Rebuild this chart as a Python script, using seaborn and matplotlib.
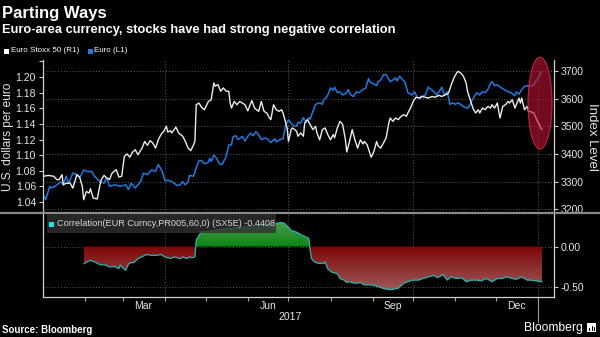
import numpy as np
import pandas as pd
import matplotlib
matplotlib.use("Agg")
import matplotlib.pyplot as plt
import matplotlib.dates as mdates
import matplotlib.transforms as mtransforms
from matplotlib.patches import Ellipse, Rectangle, PathPatch
from matplotlib.path import Path
from matplotlib.lines import Line2D
import seaborn as sns

# ---------------- data ----------------
START = pd.Timestamp("2017-01-01")

eur_day = [0, 2, 5, 6, 9, 11, 13, 15, 17, 19, 22, 25, 27, 30, 33, 36, 38, 42, 45, 47, 49, 53, 57, 61, 63,
           65, 68, 72, 74, 77, 80, 83, 85, 88, 90, 92, 95, 99, 101, 103, 105, 107, 108, 111, 113, 115, 117,
           119, 122, 123, 124, 126, 128, 130, 132, 135, 137, 139, 140, 142, 144, 147, 149, 151, 153, 155,
           157, 159, 161, 164, 166, 168, 171, 172, 175, 177, 179, 181, 183, 185, 187, 188, 190, 192, 194,
           196, 197, 199, 201, 204, 206, 207, 209, 210, 212, 214, 215, 217, 219, 221, 224, 225, 227, 229,
           231, 233, 236, 238, 240, 241, 243, 246, 247, 249, 251, 253, 255, 256, 258, 260, 261, 263, 265,
           267, 269, 272, 274, 276, 278, 279, 282, 284, 287, 289, 290, 292, 294, 296, 298, 299, 300, 302,
           304, 306, 308, 310, 313, 314, 316, 318, 320, 322, 324, 326, 328, 330, 331, 333, 335, 338, 340,
           343, 345, 348, 349, 351, 353, 355, 357, 359, 362, 363, 365, 367, 368]
eur_usd = [1.049, 1.043, 1.060, 1.058, 1.060, 1.063, 1.066, 1.062, 1.073, 1.064, 1.077, 1.075, 1.071,
           1.081, 1.079, 1.079, 1.073, 1.066, 1.064, 1.071, 1.060, 1.062, 1.060, 1.062, 1.056, 1.064,
           1.058, 1.066, 1.077, 1.075, 1.081, 1.079, 1.088, 1.079, 1.067, 1.068, 1.066, 1.061, 1.062,
           1.066, 1.062, 1.066, 1.074, 1.073, 1.084, 1.093, 1.093, 1.089, 1.091, 1.096, 1.092, 1.100,
           1.096, 1.089, 1.088, 1.098, 1.113, 1.113, 1.123, 1.125, 1.120, 1.124, 1.118, 1.124, 1.128,
           1.125, 1.130, 1.126, 1.120, 1.122, 1.120, 1.116, 1.121, 1.117, 1.120, 1.121, 1.139, 1.145,
           1.141, 1.137, 1.137, 1.142, 1.141, 1.148, 1.142, 1.148, 1.146, 1.156, 1.165, 1.167, 1.165,
           1.171, 1.174, 1.177, 1.186, 1.183, 1.187, 1.180, 1.181, 1.177, 1.180, 1.184, 1.177, 1.175,
           1.181, 1.180, 1.184, 1.186, 1.198, 1.194, 1.192, 1.189, 1.194, 1.196, 1.203, 1.203, 1.197,
           1.194, 1.196, 1.199, 1.195, 1.201, 1.197, 1.193, 1.180, 1.177, 1.181, 1.174, 1.173, 1.175,
           1.177, 1.187, 1.183, 1.180, 1.177, 1.181, 1.187, 1.177, 1.181, 1.174, 1.165, 1.167, 1.165,
           1.167, 1.165, 1.162, 1.160, 1.162, 1.169, 1.175, 1.180, 1.177, 1.181, 1.180, 1.184, 1.192,
           1.194, 1.189, 1.190, 1.186, 1.184, 1.181, 1.180, 1.176, 1.181, 1.178, 1.184, 1.188, 1.189,
           1.188, 1.190, 1.194, 1.198, 1.205, 1.207]

sx5e_day = [0, 4, 8, 10, 12, 14, 15, 17, 20, 22, 25, 27, 29, 30, 32, 34, 35, 37, 40, 42, 43, 45, 47, 49,
            51, 54, 56, 58, 60, 62, 64, 66, 68, 70, 73, 75, 77, 79, 81, 83, 85, 87, 89, 91, 92, 94, 95,
            98, 100, 103, 105, 107, 109, 111, 112, 113, 115, 117, 119, 122, 124, 126, 127, 129, 131, 133,
            135, 137, 138, 139, 141, 143, 145, 147, 149, 151, 154, 156, 159, 161, 163, 165, 167, 168, 170,
            172, 174, 176, 177, 178, 180, 181, 183, 184, 187, 188, 190, 192, 193, 195, 197, 199, 201, 202,
            204, 206, 208, 210, 212, 214, 215, 217, 219, 221, 223, 224, 226, 228, 230, 232, 234, 236, 237,
            239, 242, 244, 246, 247, 249, 251, 253, 255, 256, 258, 260, 262, 264, 266, 268, 269, 271, 273,
            275, 278, 279, 282, 284, 287, 289, 292, 294, 296, 299, 301, 303, 305, 306, 308, 310, 312, 313,
            315, 317, 319, 321, 322, 324, 326, 328, 330, 331, 333, 335, 337, 339, 341, 343, 344, 346, 348,
            349, 351, 352, 353, 355, 357, 358, 360, 362, 364, 366, 367, 368]
sx5e_level = [3319, 3322, 3319, 3307, 3307, 3325, 3288, 3294, 3294, 3276, 3325, 3316, 3282, 3234, 3264,
              3258, 3274, 3240, 3237, 3288, 3307, 3322, 3313, 3307, 3331, 3343, 3316, 3319, 3391, 3400,
              3388, 3406, 3415, 3397, 3421, 3445, 3431, 3448, 3439, 3421, 3451, 3470, 3482, 3500, 3479,
              3484, 3476, 3497, 3476, 3464, 3445, 3421, 3412, 3433, 3445, 3578, 3584, 3568, 3560, 3590,
              3596, 3657, 3645, 3651, 3627, 3639, 3627, 3627, 3584, 3566, 3590, 3578, 3590, 3584, 3578,
              3556, 3593, 3566, 3554, 3590, 3554, 3548, 3530, 3524, 3578, 3560, 3554, 3560, 3548, 3530,
              3494, 3445, 3488, 3494, 3482, 3464, 3476, 3464, 3512, 3524, 3506, 3488, 3500, 3476, 3451,
              3488, 3494, 3470, 3451, 3470, 3458, 3494, 3518, 3506, 3451, 3407, 3445, 3488, 3451, 3421,
              3451, 3436, 3445, 3433, 3388, 3409, 3445, 3430, 3421, 3439, 3458, 3512, 3530, 3518, 3530,
              3524, 3536, 3542, 3536, 3548, 3566, 3590, 3605, 3602, 3608, 3605, 3602, 3608, 3605, 3612,
              3608, 3612, 3620, 3650, 3675, 3693, 3699, 3693, 3681, 3657, 3627, 3596, 3566, 3548, 3560,
              3548, 3566, 3560, 3572, 3566, 3578, 3566, 3584, 3530, 3572, 3578, 3590, 3584, 3596, 3566,
              3578, 3602, 3584, 3602, 3560, 3572, 3554, 3552, 3548, 3524, 3506, 3494, 3488]

corr_day = [30, 32, 35, 38, 42, 46, 49, 53, 56, 57, 59, 61, 63, 65, 67, 70, 74, 76, 80, 84, 87, 90, 94,
            97, 101, 103, 106, 108, 110, 112, 113, 115, 117, 121, 126, 132, 138, 145, 153, 160, 167, 172,
            176, 178, 181, 183, 187, 191, 194, 196, 197, 198, 200, 203, 207, 208, 210, 213, 217, 219, 222,
            224, 226, 230, 234, 237, 242, 247, 252, 257, 262, 266, 269, 273, 277, 280, 284, 288, 291, 295,
            298, 301, 305, 309, 312, 316, 320, 323, 327, 331, 335, 338, 342, 346, 349, 353, 357, 360, 364,
            368]
corr_value = [-0.216, -0.196, -0.173, -0.19, -0.227, -0.23, -0.256, -0.25, -0.277, -0.23, -0.27, -0.298,
              -0.22, -0.20, -0.20, -0.152, -0.12, -0.10, -0.11, -0.11, -0.10, -0.13, -0.15, -0.13, -0.15,
              -0.13, -0.15, -0.13, -0.14, -0.13, 0.08, 0.14, 0.19, 0.19, 0.20, 0.22, 0.23, 0.24, 0.25,
              0.26, 0.28, 0.29, 0.30, 0.29, 0.24, 0.20, 0.18, 0.14, 0.12, 0.10, -0.05, -0.15, -0.19,
              -0.21, -0.21, -0.19, -0.28, -0.32, -0.34, -0.40, -0.42, -0.45, -0.44, -0.46, -0.45, -0.48,
              -0.48, -0.50, -0.53, -0.54, -0.52, -0.46, -0.44, -0.42, -0.42, -0.40, -0.38, -0.36, -0.39,
              -0.35, -0.42, -0.38, -0.40, -0.39, -0.44, -0.42, -0.42, -0.43, -0.40, -0.44, -0.40, -0.40,
              -0.38, -0.40, -0.41, -0.38, -0.42, -0.42, -0.43, -0.4408]

left_ticks = [1.04, 1.06, 1.08, 1.10, 1.12, 1.14, 1.16, 1.18, 1.20, 1.22]
left_labels = ["1.04", "1.06", "1.08", "1.10", "1.12", "1.14", "1.16", "1.18", "1.20", ""]
right_ticks = [3200, 3300, 3400, 3500, 3600, 3700]
corr_ticks = [0.0, -0.5]
corr_labels = ["0.00", "-0.50"]
month_labels = ["Mar", "Jun", "Sep", "Dec"]
label_months = [3, 6, 9, 12]
year_label = "2017"

title = "Parting Ways"
subtitle = "Euro-area currency, stocks have had strong negative correlation"
legend_top = ["Euro Stoxx 50 (R1)", "Euro (L1)"]
corr_legend = "Correlation(EUR Curncy,PR005,60,0) (SX5E) -0.4408"

# ---------------- style ----------------
sns.set_style("dark", {"axes.facecolor": "black", "figure.facecolor": "black",
                       "axes.edgecolor": "#d0d0d0", "text.color": "white"})
plt.rcParams["font.family"] = ["Liberation Sans", "DejaVu Sans"]

BLUE = "#1f7ae0"
WHITE = "#ececec"
TEAL = "#2ab5b5"
GRID = "#5c5c5c"
TXT = "#e6e6e6"

W, H = 600, 337
def fx(p): return p / W
def fy(p): return 1 - p / H

fig = plt.figure(figsize=(6.0, 3.37), dpi=100, facecolor="black")
ax1 = fig.add_axes([fx(43), fy(213), fx(554) - fx(43), fy(60) - fy(213)])
ax2 = ax1.twinx()
ax3 = fig.add_axes([fx(43), fy(297), fx(554) - fx(43), fy(213) - fy(297)])
ax1.set_facecolor("black")
ax2.set_facecolor("none")
ax3.set_facecolor("black")

eur_df = pd.DataFrame({"date": START + pd.to_timedelta(eur_day, unit="D"), "value": eur_usd})
sx_df = pd.DataFrame({"date": START + pd.to_timedelta(sx5e_day, unit="D"), "value": sx5e_level})
corr_df = pd.DataFrame({"date": START + pd.to_timedelta(corr_day, unit="D"), "value": corr_value})

x0 = START
x1 = START + pd.Timedelta(days=376.8)
quarters = [pd.Timestamp("2017-04-01"), pd.Timestamp("2017-07-01"),
            pd.Timestamp("2017-10-01"), pd.Timestamp("2018-01-01")]
month_starts = list(pd.date_range("2017-02-01", "2018-01-01", freq="MS"))
label_dates = [pd.Timestamp(2017, m, 16) for m in label_months]

# ---------------- top panel ----------------
sns.lineplot(data=eur_df, x="date", y="value", ax=ax1, color=BLUE, lw=1.1, estimator=None)
sns.lineplot(data=sx_df, x="date", y="value", ax=ax2, color=WHITE, lw=1.0, estimator=None)

ax1.set_xlim(x0, x1)
ax1.set_ylim(1.0259, 1.2218)
ax2.set_ylim(3186, 3740)

ax1.set_xticks(quarters)
ax1.tick_params(axis="x", length=0, labelbottom=False)
ax1.grid(axis="x", color=GRID, ls=(0, (1, 2)), lw=0.7)
ax1.grid(axis="y", visible=False)
ax1.set_yticks(left_ticks, left_labels)
ax1.tick_params(axis="y", left=True, direction="out", length=3, width=0.8, color="#cccccc",
                labelcolor=TXT, labelsize=7.5, pad=2)
ax1.set_xlabel("")
ax1.set_ylabel("U.S. dollars per euro", color=TXT, fontsize=8.6)
ax1.yaxis.set_label_coords(-0.056, 0.5)

ax2.set_yticks(right_ticks, [str(v) for v in right_ticks])
ax2.grid(axis="y", color=GRID, ls=(0, (1, 2)), lw=0.7)
ax2.grid(axis="x", visible=False)
ax2.set_axisbelow(True)
ax2.tick_params(axis="y", right=True, direction="out", length=3, width=0.8, color="#cccccc",
                labelcolor=TXT, labelsize=7.5, pad=2)
ax2.set_xlabel("")
ax2.set_ylabel("Index Level", color=TXT, fontsize=9.5, rotation=270, va="center")
ax2.yaxis.set_label_coords(1.074, 0.5)

for ax in (ax1, ax2):
    for s in ax.spines.values():
        s.set_visible(False)
ax1.spines["left"].set_visible(True)
ax1.spines["left"].set_color("#d0d0d0")
ax1.spines["left"].set_linewidth(0.9)
ax2.spines["right"].set_visible(True)
ax2.spines["right"].set_color("#d0d0d0")
ax2.spines["right"].set_linewidth(0.9)

# highlight ellipse around the latest moves
last = sx_df["date"].iloc[-1] - pd.Timedelta(days=1.5)
ell = Ellipse((mdates.date2num(last), 3584), width=17.7, height=333,
              facecolor=(0.75, 0.08, 0.2, 0.6), edgecolor=(0.8, 0.15, 0.28, 0.9), lw=0.8,
              zorder=10, clip_on=False)
ax2.add_patch(ell)

# ---------------- bottom panel ----------------
cx = corr_df["date"]
cy = corr_df["value"].to_numpy()


def gradient_area(ax, mask, c_base, c_far, y_far):
    coll = ax.fill_between(cx, cy, 0, where=mask, interpolate=True,
                           facecolor="none", edgecolor="none", lw=0)
    path = Path.make_compound_path(*coll.get_paths())
    patch = PathPatch(path, transform=ax.transData, facecolor="none", edgecolor="none")
    ax.add_patch(patch)
    ylo, yhi = min(0.0, y_far), max(0.0, y_far)
    n = 256
    ys = np.linspace(ylo, yhi, n)
    t = np.abs(ys) / abs(y_far)
    cb, cf = np.array(c_base), np.array(c_far)
    cols = cb[None, :] * (1 - t[:, None]) + cf[None, :] * t[:, None]
    img = cols[:, None, :]
    xa = mdates.date2num(cx.iloc[0])
    xb = mdates.date2num(cx.iloc[-1])
    im = ax.imshow(img, extent=(xa, xb, ylo, yhi), origin="lower", aspect="auto",
                   interpolation="bilinear", zorder=1)
    im.set_clip_path(patch)


gradient_area(ax3, cy <= 0, (0.49, 0.02, 0.02), (0.62, 0.36, 0.36), -0.56)
gradient_area(ax3, cy >= 0, (0.05, 0.52, 0.08), (0.30, 0.60, 0.30), 0.31)

sns.lineplot(data=corr_df, x="date", y="value", ax=ax3, color=TEAL, lw=0.9, estimator=None, zorder=3)

ax3.set_xlim(x0, x1)
ax3.set_ylim(-0.631, 0.419)
ax3.yaxis.tick_right()
ax3.set_yticks(corr_ticks, corr_labels)
ax3.tick_params(axis="y", right=True, left=False, direction="out", length=3, width=0.8,
                color="#cccccc", labelcolor=TXT, labelsize=7.5, pad=2)
ax3.grid(axis="y", color=GRID, ls=(0, (1, 2)), lw=0.7)
ax3.grid(axis="x", visible=False)
for q in quarters:
    ax3.axvline(q, color=GRID, ls=(0, (1, 2)), lw=0.7, zorder=0.5)

ax3.set_xticks(month_starts, [""] * len(month_starts))
ax3.set_xticks(label_dates, month_labels, minor=True)
ax3.tick_params(axis="x", which="major", bottom=True, direction="out", length=3, width=0.8,
                color="#aaaaaa")
ax3.tick_params(axis="x", which="minor", bottom=True, length=0, labelcolor=TXT, labelsize=7.5, pad=3)
ax3.set_xlabel("")
ax3.set_ylabel("")

for s in ax3.spines.values():
    s.set_color("#d0d0d0")
    s.set_linewidth(0.9)
ax3.spines["top"].set_visible(False)

blend = mtransforms.blended_transform_factory(ax3.transData, ax3.transAxes)
ax3.text(pd.Timestamp("2017-07-02"), -0.24, year_label, transform=blend, ha="center", va="center",
         color=TXT, fontsize=7.5)
ax3.add_line(Line2D([mdates.date2num(quarters[-1])] * 2, [0, -0.30], transform=blend,
                    color="#9a9a9a", lw=0.8, clip_on=False))

# ---------------- figure decorations ----------------
fig.add_artist(Line2D([0, 1], [fy(213), fy(213)], transform=fig.transFigure, color="#8a8a8a", lw=1.6))

fig.text(fx(2), fy(18), title, color="white", fontsize=12, fontweight="bold", va="baseline")
fig.text(fx(2), fy(33), subtitle, color="white", fontsize=9.25, fontweight="bold", va="baseline")

fig.add_artist(Rectangle((fx(4), fy(53.5)), 5 / W, 5 / H, transform=fig.transFigure,
                         facecolor="white", edgecolor="none"))
fig.text(fx(11), fy(51), legend_top[0], color="white", fontsize=5.8, va="center")
fig.add_artist(Rectangle((fx(88), fy(53.5)), 5 / W, 5 / H, transform=fig.transFigure,
                         facecolor=BLUE, edgecolor="none"))
fig.text(fx(94), fy(51), legend_top[1], color="white", fontsize=5.8, va="center")

fig.add_artist(Rectangle((fx(47), fy(233)), 229 / W, 19 / H, transform=fig.transFigure,
                         facecolor="#303030", edgecolor="none", alpha=0.8, zorder=5))
fig.add_artist(Rectangle((fx(49), fy(226.5)), 5 / W, 5 / H, transform=fig.transFigure,
                         facecolor="#11e8f0", edgecolor="none", zorder=6))
fig.text(fx(57), fy(224), corr_legend, color="#d8d8d8", fontsize=6.6, va="center", zorder=6)

fig.text(fx(2), fy(333), "Source: Bloomberg", color="white", fontsize=7, fontweight="bold",
         va="baseline")
fig.text(fx(524), fy(331), "Bloomberg", color="white", fontsize=8.7, va="baseline")
fig.add_artist(Rectangle((fx(587), fy(332)), 9 / W, 9 / H, transform=fig.transFigure,
                         facecolor="white", edgecolor="none"))
for bx, bh in [(589, 3), (591.5, 5), (594, 4)]:
    fig.add_artist(Rectangle((fx(bx), fy(331)), 1.3 / W, bh / H, transform=fig.transFigure,
                             facecolor="black", edgecolor="none"))

fig.savefig("out.png", dpi=100, facecolor="black")
